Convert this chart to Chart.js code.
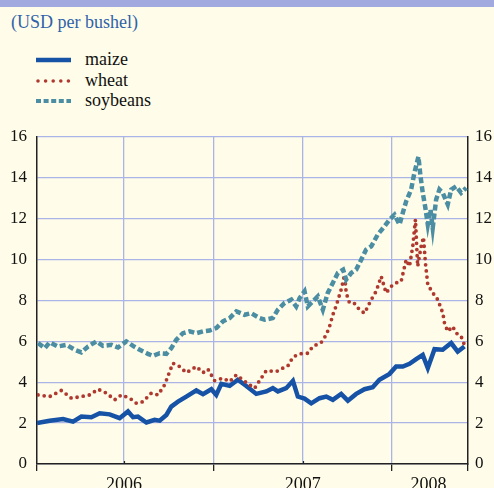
<!DOCTYPE html>
<html>
<head>
<meta charset="utf-8">
<script src="https://cdn.jsdelivr.net/npm/chart.js@4.4.0/dist/chart.umd.min.js"></script>
<style>
  body { margin: 0; background: #fffde9; }
  #wrap { position: relative; width: 494px; height: 488px; overflow: hidden; font-family: 'Liberation Serif', 'Times New Roman', serif; }
  #band { position: absolute; left: 0; top: 0; width: 494px; height: 7px; background: #a1a9de; }
  #title { position: absolute; left: 11px; top: 13px; font-size: 18px; line-height: 18px; color: #2f62aa; }
  .row { position: absolute; left: 0; height: 18px; width: 200px; }
  .row svg { position: absolute; left: 36px; top: 6px; }
  .row span { position: absolute; left: 85px; top: 0; font-size: 18px; line-height: 18px; color: #111; }
  canvas { position: absolute; left: 0; top: 0; }
</style>
</head>
<body>
<div id="wrap">
  <div id="band"></div>
  <div id="title">(USD per bushel)</div>
  <div id="legend"></div>
  <canvas id="myChart" width="494" height="488"></canvas>
</div>
<script>
// months since start of 2006, USD per bushel
const maizeMonths = [0.15,1.0,1.9,2.57,3.13,3.8,4.36,5.03,5.7,6.26,6.6,6.93,7.5,8.05,8.39,8.84,9.17,9.62,10.18,10.85,11.3,11.86,12.19,12.53,13.09,13.64,14.21,14.88,15.55,15.99,16.33,16.89,17.34,17.67,18.12,18.57,19.13,19.58,20.02,20.58,21.03,21.59,22.15,22.7,23.15,23.83,24.27,24.72,25.17,25.62,26.06,26.4,26.85,27.4,27.97,28.41,28.86];
const maizePrices = [2.0,2.12,2.2,2.07,2.32,2.29,2.48,2.43,2.24,2.57,2.29,2.32,2.03,2.16,2.12,2.4,2.81,3.05,3.3,3.6,3.42,3.66,3.38,3.92,3.82,4.12,3.82,3.43,3.55,3.71,3.55,3.71,4.07,3.3,3.2,2.97,3.22,3.3,3.14,3.43,3.1,3.43,3.66,3.76,4.12,4.41,4.77,4.77,4.9,5.13,5.34,4.7,5.62,5.59,5.92,5.5,5.75];

const wheatMonths = [0.22,1.0,1.79,2.46,3.13,3.69,4.25,4.81,5.37,5.82,6.38,6.83,7.27,7.83,8.28,8.72,9.06,9.28,9.73,10.18,10.85,11.3,11.63,12.08,12.64,13.09,13.54,13.98,14.43,14.77,15.21,15.55,16.22,16.66,17.0,17.34,17.79,18.34,18.68,19.24,19.58,19.8,20.02,20.25,20.58,20.81,20.92,21.14,21.48,21.81,22.15,22.6,22.93,23.27,23.6,23.94,24.27,24.61,24.95,25.17,25.39,25.57,25.72,25.95,26.11,26.24,26.4,26.74,27.07,27.41,27.52,27.74,28.07,28.3,28.64,28.86];
const wheatPrices = [3.38,3.3,3.6,3.22,3.3,3.38,3.66,3.47,3.14,3.38,3.22,2.97,3.05,3.47,3.38,3.87,4.52,4.93,4.77,4.47,4.77,4.47,4.64,4.08,4.2,4.03,4.36,4.12,3.87,3.71,4.2,4.57,4.52,4.69,4.8,5.23,5.39,5.42,5.75,5.95,6.32,6.73,7.3,7.75,8.53,9.26,8.37,7.88,7.85,7.55,7.38,8.04,8.45,9.18,8.37,8.69,8.86,8.94,10.0,9.67,10.65,11.96,9.67,10.65,11.1,9.84,8.77,8.37,8.04,7.38,6.9,6.49,6.73,6.41,6.24,5.83];

const soyMonths = [0.22,0.67,1.0,1.56,2.13,2.68,3.13,3.58,4.14,4.58,5.15,5.59,6.15,6.6,7.05,7.6,7.94,8.39,8.84,9.17,9.51,9.95,10.4,10.85,11.3,11.74,12.19,12.64,13.09,13.54,14.09,14.54,15.1,15.44,15.99,16.33,16.78,17.23,17.56,17.79,18.12,18.34,18.68,19.01,19.35,19.68,20.02,20.36,20.71,20.92,21.26,21.59,21.93,22.26,22.6,23.04,23.49,23.83,24.16,24.5,24.72,24.95,25.28,25.5,25.77,25.91,26.06,26.22,26.4,26.58,26.73,26.96,27.18,27.4,27.74,27.97,28.3,28.64,28.98];
const soyPrices = [5.92,5.67,5.95,5.75,5.83,5.59,5.46,5.75,6.0,5.78,5.83,5.7,6.0,5.78,5.59,5.39,5.29,5.42,5.39,5.67,6.08,6.4,6.49,6.4,6.49,6.53,6.65,6.98,7.14,7.47,7.3,7.38,7.14,7.06,7.14,7.55,7.88,8.04,7.71,8.12,8.45,7.71,7.96,8.2,7.55,8.37,8.86,9.35,9.51,9.02,9.35,9.51,10.0,10.49,10.65,11.23,11.63,11.96,12.2,11.72,12.29,12.86,13.43,14.25,15.04,14.08,13.27,12.61,11.72,12.45,11.55,12.94,13.43,13.27,12.7,13.43,13.59,13.27,13.51];

const seriesNames = ['maize', 'wheat', 'soybeans'];
const yearLabels = ['2006', '2007', '2008'];
const yearLabelAt = [6, 18, 26.45];
const gridAt = [6, 12, 18, 24];
const yTicks = [0, 2, 4, 6, 8, 10, 12, 14, 16];

const xMin = 0.15, xMax = 29.1;
const gridBlue = '#aab4e6';
const axisDark = '#222';
const serif = "'Liberation Serif', 'Times New Roman', serif";

const colors = ['#1652a6', '#b0392f', '#4b8ea3'];
const svgDash = ['', '0 7.6', '5 2.6'];
const svgWidth = [4.5, 3.6, 4.2];

// legend (html)
const legendBox = document.getElementById('legend');
seriesNames.forEach((name, i) => {
  const row = document.createElement('div');
  row.className = 'row';
  row.style.top = (50 + i * 20.5) + 'px';
  row.innerHTML = '<svg width="36" height="8"><line x1="' + (i === 1 ? 2 : 0) + '" y1="4" x2="35" y2="4" stroke="' + colors[i] +
    '" stroke-width="' + svgWidth[i] + '"' + (svgDash[i] ? ' stroke-dasharray="' + svgDash[i] + '"' : '') +
    (i === 1 ? ' stroke-linecap="round"' : '') + '/></svg><span>' + name + '</span>';
  legendBox.appendChild(row);
});

function pts(xs, ys) {
  return xs.map((x, i) => ({ x: x, y: ys[i] }));
}

// small upward ticks at mid-year
const midTicks = {
  id: 'midTicks',
  afterDraw(chart) {
    const c = chart.ctx, sx = chart.scales.x, bottom = chart.chartArea.bottom;
    c.save();
    c.strokeStyle = axisDark;
    c.lineWidth = 1.2;
    [6, 18].forEach(v => {
      const px = Math.round(sx.getPixelForValue(v)) + 0.5;
      c.beginPath();
      c.moveTo(px, bottom);
      c.lineTo(px, bottom - 3);
      c.stroke();
    });
    c.restore();
  }
};

var ctx = document.getElementById('myChart').getContext('2d');
var myChart = new Chart(ctx, {
  type: 'line',
  data: {
    datasets: [{
      label: seriesNames[0],
      data: pts(maizeMonths, maizePrices),
      borderColor: colors[0],
      borderWidth: 4.5,
      order: 2
    }, {
      label: seriesNames[1],
      data: pts(wheatMonths, wheatPrices),
      borderColor: colors[1],
      borderWidth: 3.8,
      borderDash: [0, 6.2],
      borderCapStyle: 'round',
      order: 1
    }, {
      label: seriesNames[2],
      data: pts(soyMonths, soyPrices),
      borderColor: colors[2],
      borderWidth: 4.5,
      borderDash: [6, 3],
      order: 0
    }]
  },
  options: {
    responsive: false,
    animation: false,
    devicePixelRatio: 1,
    layout: { padding: { top: 137, left: 0, right: 0, bottom: 0 } },
    elements: { point: { radius: 0 }, line: { tension: 0 } },
    plugins: { legend: { display: false }, tooltip: { enabled: false } },
    scales: {
      x: {
        type: 'linear',
        min: xMin,
        max: xMax,
        afterBuildTicks: s => {
          s.ticks = [xMin, 6, 12, 18, 24, 26.45, xMax].map(v => ({ value: v }));
        },
        afterFit: s => { s.height = 24; },
        ticks: {
          autoSkip: false,
          maxRotation: 0,
          padding: 3,
          color: '#111',
          font: { family: serif, size: 18 },
          callback: v => {
            const k = yearLabelAt.indexOf(v);
            return k >= 0 ? yearLabels[k] : '';
          }
        },
        grid: {
          color: c => gridAt.includes(c.tick && c.tick.value) && c.tick.value !== 12 && c.tick.value !== 24 || (c.tick && (c.tick.value === 12 || c.tick.value === 24)) ? gridBlue : 'rgba(0,0,0,0)',
          lineWidth: 1.3,
          tickLength: 7,
          tickColor: c => {
            const v = c.tick && c.tick.value;
            return (v === xMin || v === 12 || v === 24 || v === xMax) ? axisDark : 'rgba(0,0,0,0)';
          },
          tickWidth: 1.3
        },
        border: { color: axisDark, width: 1.5 }
      },
      y: {
        position: 'left',
        min: 0,
        max: 16,
        afterBuildTicks: s => { s.ticks = yTicks.map(v => ({ value: v })); },
        afterFit: s => { s.width = 37; },
        ticks: { padding: 10, color: '#111', font: { family: serif, size: 17 } },
        grid: { color: gridBlue, lineWidth: 1.3, drawTicks: false },
        border: { color: axisDark, width: 1.5 }
      },
      y2: {
        position: 'right',
        min: 0,
        max: 16,
        afterBuildTicks: s => { s.ticks = yTicks.map(v => ({ value: v })); },
        afterFit: s => { s.width = 26; },
        ticks: { padding: 7, color: '#111', font: { family: serif, size: 17 } },
        grid: { display: false, drawTicks: false },
        border: { color: axisDark, width: 1.5 }
      }
    }
  },
  plugins: [midTicks]
});
</script>
</body>
</html>
